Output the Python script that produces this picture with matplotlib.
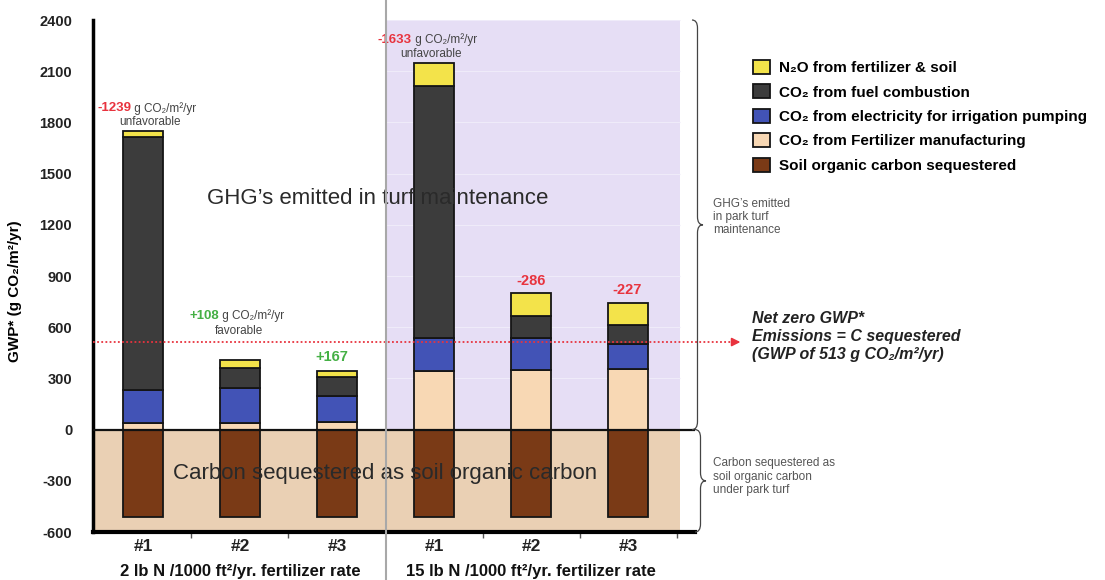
import matplotlib
matplotlib.use("Agg")
import matplotlib.pyplot as plt
import matplotlib.transforms as mtransforms
from matplotlib.path import Path
from matplotlib.patches import PathPatch
import numpy as np

plt.rcParams['font.family'] = ['Liberation Sans', 'DejaVu Sans']
plt.rcParams['axes.unicode_minus'] = False

# data (g CO2/m2/yr)
bar_labels = ["#1", "#2", "#3", "#1", "#2", "#3"]
group_labels = ["2 lb N /1000 ft²/yr. fertilizer rate", "15 lb N /1000 ft²/yr. fertilizer rate"]
soil_sequestered = [-513, -513, -513, -513, -513, -513]
fert_manufacturing = [40, 40, 42, 342, 347, 356]
electricity = [194, 206, 153, 195, 192, 148]
fuel = [1483, 117, 111, 1475, 129, 111]
n2o = [35, 42, 40, 134, 131, 125]
net_values = ["-1239", "+108", "+167", "-1633", "-286", "-227"]
net_zero = 513
yticks = list(range(-600, 2401, 300))

legend_names = ["N₂O from fertilizer & soil", "CO₂ from fuel combustion",
                "CO₂ from electricity for irrigation pumping",
                "CO₂ from Fertilizer manufacturing", "Soil organic carbon sequestered"]
colors = {"n2o": "#F3E34A", "fuel": "#3C3C3C", "elec": "#4253B6",
          "fert": "#F8D8B4", "soil": "#7A3A16"}

W, H = 1105, 580
fig = plt.figure(figsize=(W / 100, H / 100), dpi=100)
ax = fig.add_axes([93 / W, 1 - 532 / H, 602 / W, 512 / H])

x = np.arange(len(bar_labels))
ax.set_xlim(-0.515, 5.69)
ax.set_ylim(-600, 2400)

# background regions
ax.axhspan(-600, 0, xmin=0, xmax=0.975, color="#EAD0B4", zorder=0, lw=0)
ax.axvspan(2.5, 5.536, ymin=0.2, ymax=1, color="#E6DEF5", zorder=0, lw=0)
ax.hlines([t for t in yticks if t > 0], 2.5, 5.536, color="#EFEBF9", lw=0.8, zorder=0.5)
ax.set_yticks(yticks)

w = 0.41
ekw = dict(edgecolor="#151515", linewidth=1.3, zorder=2)
b_soil = ax.bar(x, soil_sequestered, w, color=colors["soil"], **ekw)
bottom = np.zeros(len(x))
b_fert = ax.bar(x, fert_manufacturing, w, bottom=bottom, color=colors["fert"], **ekw)
bottom += fert_manufacturing
b_elec = ax.bar(x, electricity, w, bottom=bottom, color=colors["elec"], **ekw)
bottom += electricity
b_fuel = ax.bar(x, fuel, w, bottom=bottom, color=colors["fuel"], **ekw)
bottom += fuel
b_n2o = ax.bar(x, n2o, w, bottom=bottom, color=colors["n2o"], **ekw)
bottom += n2o
totals = bottom.copy()

# zero line
ax.axhline(0, color="#111111", lw=1.6, zorder=3)

# spines / ticks
for s in ["top", "right"]:
    ax.spines[s].set_visible(False)
ax.spines["left"].set_linewidth(2.5)
ax.spines["bottom"].set_linewidth(3)
ax.tick_params(axis="y", length=0, pad=15, labelsize=10.5, labelcolor="#222222")
for t in ax.get_yticklabels():
    t.set_fontweight("bold")
ax.set_xticks(x)
ax.set_xticklabels(bar_labels, fontsize=12.5, fontweight="bold", color="#222222")
ax.tick_params(axis="x", length=0, pad=5)
ax.set_xticks([0.5, 1.5, 3.5, 4.5, 5.5], minor=True)
ax.tick_params(axis="x", which="minor", length=4, width=1, color="#555555")

ax.set_ylabel("GWP* (g CO₂/m²/yr)", fontsize=11, fontweight="bold")
ax.yaxis.set_label_coords(-0.118, 0.47)

# group labels
bt = mtransforms.blended_transform_factory(ax.transData, ax.transAxes)
for gx, gl in zip([1, 4], group_labels):
    ax.text(gx, -0.077, gl, transform=bt, ha="center", va="center",
            fontsize=12, fontweight="bold", color="#111111")

# divider line
ax.plot([2.5, 2.5], [-0.094, 1.039], transform=bt, color="#A8A8A8", lw=1.5,
        clip_on=False, zorder=5)

# big labels
ax.text(2.42, 1355, "GHG’s emitted in turf maintenance", fontsize=16, color="#2A2A2A",
        ha="center", va="center", zorder=4)
ax.text(2.5, -255, "Carbon sequestered as soil organic carbon", fontsize=16, color="#2A2A2A",
        ha="center", va="center", zorder=4)

# net annotations
red, green = "#E8333E", "#45B045"
unit = "g CO₂/m²/yr"
ann = [  # (bar index, color, dx_num, dy_num, note, dx_note, dy_note)
    (0, red, -8.5, 16, "unfavorable", 5, 6.5),
    (3, red, -16, 17, "unfavorable", -2, 7),
    (1, green, -15, 32, "favorable", -1, 21),
]
for i, c, dx, dy, note, ndx, ndy in ann:
    ax.annotate(net_values[i], (x[i], totals[i]), xytext=(dx, dy), textcoords="offset points",
                ha="right", va="center", color=c, fontsize=9.5, fontweight="bold", zorder=4)
    ax.annotate(" " + unit, (x[i], totals[i]), xytext=(dx, dy), textcoords="offset points",
                ha="left", va="center", color="#444444", fontsize=8.5, zorder=4)
    ax.annotate(note, (x[i], totals[i]), xytext=(ndx, ndy), textcoords="offset points",
                ha="center", va="center", color="#444444", fontsize=8.5, zorder=4)
for i, c, dx, dy in [(2, green, -4, 10), (4, red, 0, 8.5), (5, red, -1, 9.5)]:
    ax.annotate(net_values[i], (x[i], totals[i]), xytext=(dx, dy), textcoords="offset points",
                ha="center", va="center", color=c, fontsize=10.5, fontweight="bold", zorder=4)

# net zero line with arrow
ba = mtransforms.blended_transform_factory(ax.transAxes, ax.transData)
ax.plot([0, 1.068], [net_zero, net_zero], transform=ba, color=red, lw=1.3,
        ls=(0, (1, 1.3)), clip_on=False, zorder=4)
ax.annotate("", xy=(1.08, net_zero), xycoords=ba, xytext=(1.062, net_zero), textcoords=ba,
            arrowprops=dict(arrowstyle="-|>,head_length=0.5,head_width=0.25", color=red, lw=1.2))
ax.text(1.095, net_zero + 35, "Net zero GWP*\nEmissions = C sequestered\n(GWP of 513 g CO₂/m²/yr)",
        transform=ba, ha="left", va="center", fontsize=11.5, fontweight="bold", style="italic",
        color="#222222", linespacing=1.25)


# braces
def brace(y_top, y_bot, x0, wdt=11, r=8):
    (_, yt) = ax.transData.transform((0, y_top))
    (_, yb) = ax.transData.transform((0, y_bot))
    xd = ax.transAxes.transform((x0, 0))[0]
    ym = (yt + yb) / 2
    xm = xd + wdt / 2
    verts = [(xd, yt), (xm, yt), (xm, yt - r),
             (xm, ym + r), (xm, ym), (xd + wdt, ym),
             (xm, ym), (xm, ym - r),
             (xm, yb + r), (xm, yb), (xd, yb)]
    codes = [Path.MOVETO, Path.CURVE3, Path.CURVE3,
             Path.LINETO, Path.CURVE3, Path.CURVE3,
             Path.CURVE3, Path.CURVE3,
             Path.LINETO, Path.CURVE3, Path.CURVE3]
    fig.add_artist(PathPatch(Path(verts, codes), transform=None, fill=False,
                             edgecolor="#444444", lw=0.9))


brace(2400, 0, 0.995)
brace(0, -600, 1.0)
ax.text(1.03, 1245, "GHG’s emitted\nin park turf\nmaintenance", transform=ba, ha="left",
        va="center", fontsize=8.5, color="#555555", linespacing=1.15)
ax.text(1.03, -275, "Carbon sequestered as\nsoil organic carbon\nunder park turf", transform=ba,
        ha="left", va="center", fontsize=8.5, color="#555555", linespacing=1.15)

# legend
handles = [b_n2o, b_fuel, b_elec, b_fert, b_soil]
fig.legend(handles, legend_names, loc="upper left", bbox_to_anchor=(739 / W, 1 - 46 / H),
           frameon=False, prop=dict(weight="bold", size=11), handlelength=1.15,
           handleheight=1.05, handletextpad=0.6, labelspacing=0.6)

fig.savefig("out.png", dpi=100)
